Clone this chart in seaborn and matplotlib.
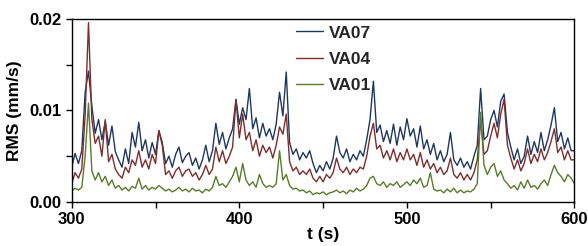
import matplotlib
matplotlib.use("Agg")
import matplotlib.pyplot as plt
import numpy as np
import pandas as pd
import seaborn as sns
from matplotlib.ticker import MultipleLocator, FormatStrFormatter

# time axis, one reading every 2 s
t = np.arange(300, 601, 2)

# RMS values, in units of 1e-3 mm/s
va07 = [3.8, 5.3, 4.2, 5.6, 12.0, 14.3, 10.5, 7.5, 9.0, 6.8,
        8.8, 6.2, 8.3, 5.5, 4.6, 3.8, 5.8, 4.2, 7.6, 6.0,
        8.7, 5.6, 6.8, 4.8, 6.5, 5.2, 7.8, 6.5, 4.2, 5.0,
        3.8, 5.2, 6.0, 4.3, 5.0, 5.4, 4.0, 4.8, 3.6, 4.6,
        6.2, 4.4, 5.6, 8.6, 6.3, 7.6, 5.8, 7.0, 8.0, 11.2,
        8.5, 10.3, 9.0, 12.4, 8.0, 9.2, 7.0, 8.6, 7.2, 8.0,
        6.8, 8.5, 12.0, 9.4, 14.2, 6.5, 5.2, 5.8, 4.6, 5.4,
        4.8, 5.6, 4.2, 3.2, 4.0, 3.4, 4.4, 3.6, 4.8, 7.2,
        5.4, 4.8, 5.8, 4.4, 5.2, 4.6, 5.6, 5.0, 6.8, 9.0,
        13.2, 7.6, 8.4, 6.6, 7.8, 6.4, 8.5, 6.2, 8.2, 6.8,
        9.1, 7.2, 8.0, 6.0, 8.3, 5.8, 6.8, 5.2, 6.4, 4.6,
        5.6, 4.4, 5.2, 7.6, 4.6, 4.0, 4.8, 3.8, 4.4, 3.6,
        5.0, 6.2, 12.4, 6.8, 7.2, 9.0, 10.0, 8.2, 11.0, 11.8,
        7.6, 6.0, 4.6, 5.8, 4.2, 5.0, 7.2, 5.2, 6.6, 5.4,
        7.6, 5.6, 6.8, 8.4, 10.3, 6.6, 7.6, 5.8, 7.0, 5.6,
        5.6]

va04 = [2.0, 3.2, 2.6, 3.6, 9.5, 19.6, 9.0, 6.4, 7.2, 5.0,
        9.0, 4.4, 5.2, 3.6, 3.0, 2.6, 3.8, 3.2, 4.6, 4.0,
        5.6, 3.8, 4.6, 3.6, 5.2, 4.2, 7.8, 6.2, 3.0, 3.4,
        2.6, 3.4, 3.8, 2.8, 3.4, 3.6, 2.8, 3.2, 2.4, 3.0,
        4.0, 3.0, 3.6, 6.0, 4.4, 5.6, 4.2, 5.0, 6.0, 11.2,
        7.0, 9.6, 6.8, 7.6, 5.6, 6.8, 5.0, 6.2, 5.4, 6.0,
        4.8, 6.2, 8.2, 7.4, 9.6, 4.4, 3.4, 3.8, 3.0, 3.4,
        3.0, 3.6, 2.6, 2.2, 2.8, 2.2, 3.0, 2.6, 3.2, 4.8,
        3.6, 3.2, 3.8, 3.0, 3.6, 3.2, 3.8, 3.6, 5.0, 7.2,
        8.6, 5.8, 6.2, 4.8, 5.6, 4.6, 5.8, 4.4, 5.4, 4.6,
        5.8, 4.6, 5.2, 4.0, 5.4, 3.8, 4.6, 3.6, 4.2, 3.2,
        3.8, 3.0, 3.4, 4.8, 3.0, 2.6, 3.2, 2.4, 3.0, 2.4,
        3.2, 4.6, 9.0, 5.2, 5.6, 7.2, 8.6, 7.0, 9.6, 11.2,
        6.2, 4.8, 3.6, 4.6, 3.4, 4.2, 5.8, 4.2, 5.2, 4.4,
        5.8, 4.6, 5.4, 6.6, 8.0, 5.4, 6.0, 4.6, 5.6, 4.6,
        4.6]

va01 = [1.2, 1.5, 1.3, 1.6, 5.0, 10.8, 3.4, 2.4, 3.2, 2.2,
        2.8, 1.8, 2.4, 1.5, 1.8, 1.3, 1.6, 1.2, 1.7, 1.5,
        2.6, 1.4, 1.8, 1.3, 1.6, 1.4, 1.8, 1.5, 1.2, 1.4,
        1.1, 1.3, 1.6, 1.2, 1.4, 1.1, 1.5, 1.2, 1.3, 1.0,
        1.4, 1.2, 1.6, 2.8, 1.8, 2.0, 1.6, 2.2, 2.8, 3.8,
        2.2, 4.2, 2.4, 1.8, 2.2, 1.6, 3.0, 2.0, 1.6, 1.8,
        1.6, 2.0, 5.6, 2.4, 3.0, 1.8, 1.4, 1.5, 1.2, 1.3,
        1.0, 1.2, 0.8, 1.0, 0.9, 1.1, 0.8, 1.0, 1.1, 1.3,
        1.0, 1.2, 0.9, 1.3, 1.1, 1.5, 1.2, 1.4, 1.8, 2.6,
        2.8, 2.0, 1.8, 2.2, 1.6, 2.0, 1.8, 2.2, 1.6, 1.9,
        2.2, 1.8, 2.4, 2.0, 2.6, 1.6, 1.8, 3.2, 1.4, 1.2,
        1.3, 1.0, 1.4, 1.1, 1.5, 1.0, 1.3, 1.0, 1.2, 1.1,
        1.4, 2.0, 9.8, 4.0, 3.0, 3.8, 4.2, 2.8, 3.4, 2.4,
        2.0, 1.5, 1.8, 1.3, 2.2, 1.5, 2.4, 1.6, 1.8, 1.4,
        2.0, 2.4, 1.8, 3.0, 4.0, 3.2, 2.8, 2.2, 3.0, 2.6,
        2.0]

series = ["VA07", "VA04", "VA01"]
colors = ["#1F3760", "#7E2D2D", "#5B7A2C"]

df = pd.DataFrame({
    "t": np.tile(t, 3),
    "rms": np.concatenate([va07, va04, va01]) * 1e-3,
    "sensor": np.repeat(series, len(t)),
})

sns.set_style("ticks")
plt.rcParams["font.family"] = ["Liberation Sans", "DejaVu Sans"]
plt.rcParams["font.weight"] = "bold"

fig = plt.figure(figsize=(5.88, 2.46), dpi=100)
ax = fig.add_axes([0.122, 0.179, 0.855, 0.744])

sns.lineplot(data=df, x="t", y="rms", hue="sensor", hue_order=series,
             palette=colors, linewidth=1.0, ax=ax)

ax.set_xlim(300, 600)
ax.set_ylim(0, 0.02)
ax.xaxis.set_major_locator(MultipleLocator(100))
ax.xaxis.set_minor_locator(MultipleLocator(50))
ax.yaxis.set_major_locator(MultipleLocator(0.01))
ax.yaxis.set_minor_locator(MultipleLocator(0.005))
ax.yaxis.set_major_formatter(FormatStrFormatter("%.2f"))
ax.tick_params(which="both", direction="out", labelsize=12, width=1,
               color="black", labelcolor="black", length=4)
for s in ax.spines.values():
    s.set_visible(True)
    s.set_linewidth(1.0)
    s.set_color("black")

ax.set_xlabel("t (s)", fontsize=12.5, fontweight="bold", labelpad=0,
              color="black")
ax.set_ylabel("RMS (mm/s)", fontsize=12.5, fontweight="bold", labelpad=5,
              color="black")

ax.legend(loc="upper center", bbox_to_anchor=(0.52, 1.05), frameon=False,
          handlelength=1.6, handletextpad=0.3, labelspacing=0.65,
          prop={"weight": "bold", "size": 12.5})

fig.savefig("out.png", dpi=100)
